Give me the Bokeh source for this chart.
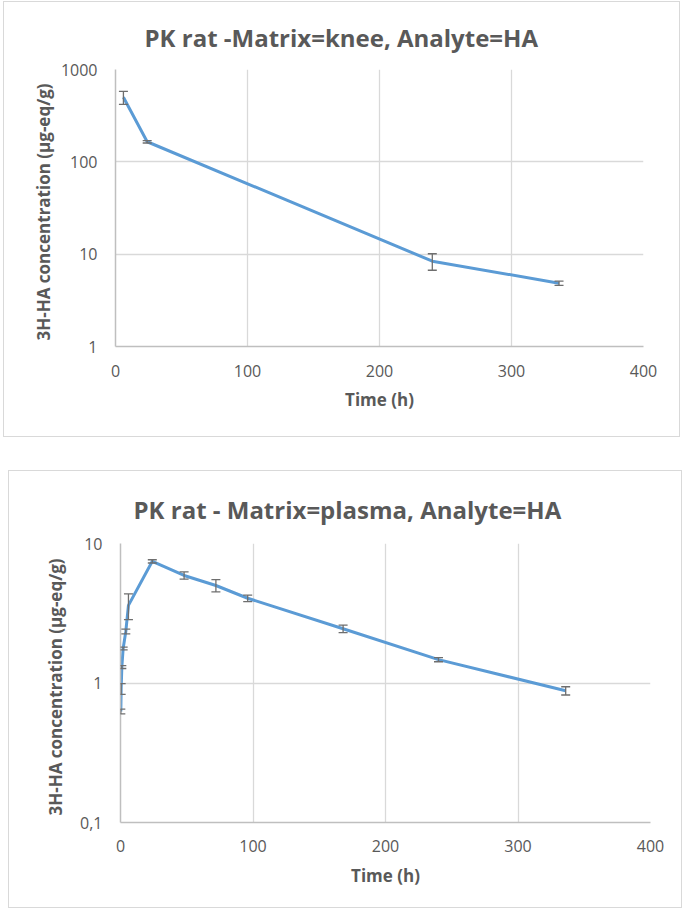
from bokeh.plotting import figure
from bokeh.layouts import column
from bokeh.models import ColumnDataSource, Whisker, TeeHead, FixedTicker, Title
from bokeh.embed import file_html
from bokeh.resources import INLINE

# ---- data ----
knee_time = [6, 24, 240, 336]
knee_mean = [500, 165, 8.4, 4.85]
knee_sd = [80, 5, 1.7, 0.25]

plasma_time = [0.25, 0.5, 1, 2, 4, 6, 24, 48, 72, 96, 168, 240, 336]
plasma_mean = [0.625, 0.91, 1.3, 1.77, 2.34, 3.6, 7.45, 5.9, 5.0, 4.05, 2.45, 1.47, 0.88]
plasma_sd = [0.025, 0.08, 0.03, 0.04, 0.09, 0.75, 0.2, 0.35, 0.5, 0.22, 0.15, 0.05, 0.06]

x_ticks = [0, 100, 200, 300, 400]
knee_yticks = [1, 10, 100, 1000]
knee_ylabels = {1: "1", 10: "10", 100: "100", 1000: "1000"}
plasma_yticks = [0.1, 1, 10]
plasma_ylabels = {0.1: "0,1", 1: "1", 10: "10"}

title_knee = "PK rat -Matrix=knee, Analyte=HA"
title_plasma = "PK rat - Matrix=plasma, Analyte=HA"
x_label = "Time (h)"
y_label = "3H-HA concentration (µg-eq/g)"

FONT = "Open Sans"
TXT = "#595959"
BLUE = "#5B9BD5"
GRID = "#D9D9D9"
AXIS = "#BFBFBF"
ERR = "#6E6E6E"


def make_chart(title, t, m, sd, yr, yticks, ylabels, fl, fw, ft, fh, W, H,
               title_standoff, title_offset, xstand, xlab_stand, ylab_stand, ylab_offset):
    p = figure(
        x_range=(0, 400), y_range=yr, y_axis_type="log",
        frame_width=fw, frame_height=fh,
        min_border_left=fl, min_border_right=W - fl - fw,
        min_border_top=ft, min_border_bottom=H - ft - fh,
        output_backend="svg", toolbar_location=None,
        background_fill_color="white", border_fill_color="white",
        outline_line_color=None,
    )
    p.title = Title(text=title, align="left", text_font=FONT, text_font_size="24px",
                    text_font_style="bold", text_color=TXT, standoff=title_standoff,
                    offset=title_offset)
    src = ColumnDataSource(dict(
        t=t, m=m,
        lo=[a - b for a, b in zip(m, sd)],
        hi=[a + b for a, b in zip(m, sd)],
    ))
    p.line("t", "m", source=src, line_color=BLUE, line_width=3, line_join="round")
    w = Whisker(source=src, base="t", lower="lo", upper="hi",
                line_color=ERR, line_width=1.3,
                lower_head=TeeHead(size=9, line_color=ERR, line_width=1.3),
                upper_head=TeeHead(size=9, line_color=ERR, line_width=1.3),
                level="overlay")
    p.add_layout(w)

    p.xaxis.ticker = FixedTicker(ticks=x_ticks)
    p.yaxis.ticker = FixedTicker(ticks=yticks)
    p.yaxis.major_label_overrides = ylabels
    for ax in (p.xaxis[0], p.yaxis[0]):
        ax.major_tick_out = 0
        ax.major_tick_in = 0
        ax.minor_tick_out = 0
        ax.minor_tick_in = 0
        ax.axis_line_color = AXIS
        ax.axis_line_width = 1.5
        ax.major_label_text_font = FONT
        ax.major_label_text_font_size = "16px"
        ax.major_label_text_color = TXT
        ax.axis_label_text_font = FONT
        ax.axis_label_text_font_size = "17px"
        ax.axis_label_text_font_style = "bold"
        ax.axis_label_text_color = TXT
    p.xaxis.axis_label = x_label
    p.xaxis.major_label_standoff = xstand
    p.xaxis.axis_label_standoff = xlab_stand
    p.yaxis.major_label_standoff = 18
    # y-axis title, anchored from the bottom of the plot frame
    p.add_layout(Title(text=y_label, align="left", offset=ylab_offset, text_font=FONT,
                       text_font_size="17px", text_font_style="bold", text_color=TXT,
                       standoff=ylab_stand), "left")
    p.grid.grid_line_color = GRID
    p.grid.grid_line_width = 1.3
    p.styles = {"border": "1px solid #D9D9D9"}
    return p


p1 = make_chart(title_knee, knee_time, knee_mean, knee_sd, (1, 1000), knee_yticks, knee_ylabels,
                111, 526, 67, 275, 675, 434, 31.5, 29, 18, 8, 6, 6)
p1.margin = (1, 0, 0, 3)

p2 = make_chart(title_plasma, plasma_time, plasma_mean, plasma_sd, (0.1, 10), plasma_yticks,
                plasma_ylabels, 108, 528, 72, 277, 672, 436, 36, 13, 17, 9, 22, 7)
p2.margin = (33, 0, 0, 8)

layout = column(p1, p2)
open("out.html", "w").write(file_html(layout, INLINE))
